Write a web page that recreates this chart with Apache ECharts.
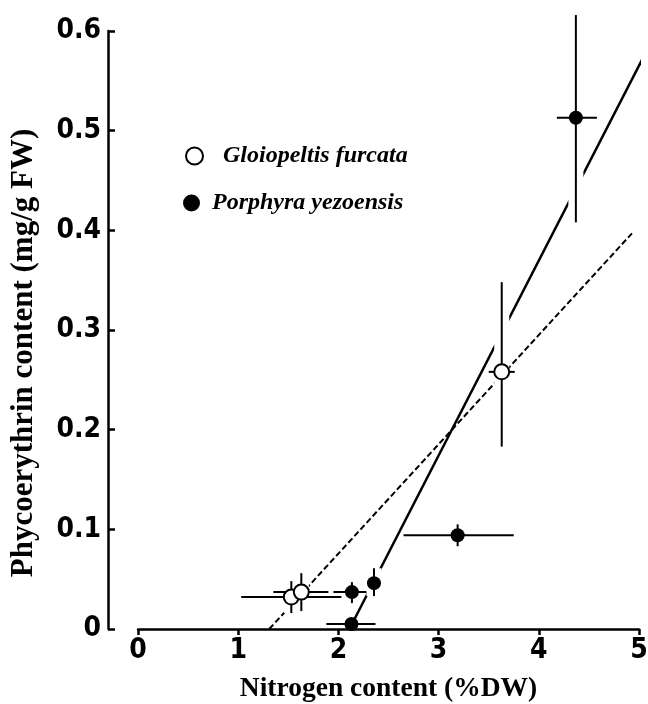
<!DOCTYPE html>
<html>
<head>
<meta charset="utf-8">
<script src="https://cdn.jsdelivr.net/npm/echarts@6/dist/echarts.min.js"></script>
<style>
html,body{margin:0;padding:0;background:#fff;}
#chart{width:648px;height:704px;}
</style>
</head>
<body>
<div id="chart"></div>
<script>
// ---- data ----
const xTicks = [0, 1, 2, 3, 4, 5];
const yTicks = [0, 0.1, 0.2, 0.3, 0.4, 0.5, 0.6];

// Gloiopeltis furcata (open circles)
const gloX   = [1.53, 1.63, 3.63];
const gloY   = [0.032, 0.037, 0.258];
const gloXLo = [1.03, 1.35, 3.50];
const gloXHi = [2.03, 1.90, 3.76];
const gloYLo = [0.016, 0.018, 0.183];
const gloYHi = [0.048, 0.056, 0.348];

// Porphyra yezoensis (filled circles)
const porX   = [2.13, 2.135, 2.355, 3.19, 4.37];
const porY   = [0.005, 0.037, 0.046, 0.094, 0.513];
const porXLo = [1.88, 1.95, 2.30, 2.65, 4.18];
const porXHi = [2.37, 2.28, 2.41, 3.75, 4.58];
const porYLo = [0.005, 0.026, 0.033, 0.083, 0.408];
const porYHi = [0.005, 0.047, 0.061, 0.105, 0.616];

// regression lines (end points)
const gloFitX = [1.31, 4.93];
const gloFitY = [0, 0.397];
const porFitX = [2.11, 5.06];
const porFitY = [0, 0.577];

// ---- build ----
function pts(xs, ys) { return xs.map((x, i) => [x, ys[i]]); }
function errRows(xs, ys, xl, xh, yl, yh) {
  return xs.map((x, i) => [x, ys[i], xl[i], xh[i], yl[i], yh[i]]);
}
const errData = errRows(gloX, gloY, gloXLo, gloXHi, gloYLo, gloYHi)
  .concat(errRows(porX, porY, porXLo, porXHi, porYLo, porYHi));

const serif = "'Liberation Serif', 'Times New Roman', serif";
const cond = "'Liberation Sans Narrow', 'DejaVu Sans Condensed', 'Liberation Sans', sans-serif";

function haloItem(params, api) {
  const lo = api.coord([api.value(0), api.value(4)]);
  const hi = api.coord([api.value(0), api.value(5)]);
  if (Math.abs(lo[1] - hi[1]) < 1) return null;
  return {
    type: 'line',
    shape: { x1: lo[0], y1: lo[1], x2: hi[0], y2: hi[1] },
    style: { stroke: '#fff', lineWidth: 15, lineCap: 'butt' }
  };
}
function barItem(params, api) {
  const l = api.coord([api.value(2), api.value(1)]);
  const r = api.coord([api.value(3), api.value(1)]);
  const lo = api.coord([api.value(0), api.value(4)]);
  const hi = api.coord([api.value(0), api.value(5)]);
  const st = { stroke: '#000', lineWidth: 2, lineCap: 'butt' };
  const ch = [{ type: 'line', shape: { x1: l[0], y1: l[1], x2: r[0], y2: r[1] }, style: st }];
  if (Math.abs(lo[1] - hi[1]) >= 1) {
    ch.push({ type: 'line', shape: { x1: lo[0], y1: lo[1], x2: hi[0], y2: hi[1] }, style: st });
  }
  return { type: 'group', children: ch };
}

const chart = echarts.init(document.getElementById('chart'), null, { renderer: 'canvas' });
chart.setOption({
  animation: false,
  backgroundColor: '#fff',
  grid: { left: 138, right: 9, top: 31, bottom: 75, containLabel: false, outerBoundsMode: 'none' },
  legend: [
    {
      data: [{ name: 'Gloiopeltis furcata', icon: 'circle',
               itemStyle: { color: '#fff', borderColor: '#000', borderWidth: 2 } }],
      left: 180, top: 139, itemWidth: 17, itemHeight: 17,
      selectedMode: false,
      textStyle: { fontFamily: serif, fontStyle: 'italic', fontWeight: 'bold', fontSize: 24,
                   color: '#000', padding: [0, 0, 0, 15] }
    },
    {
      data: [{ name: 'Porphyra yezoensis', icon: 'circle',
               itemStyle: { color: '#000', borderColor: '#000', borderWidth: 0 } }],
      left: 178, top: 186, itemWidth: 17, itemHeight: 17,
      selectedMode: false,
      textStyle: { fontFamily: serif, fontStyle: 'italic', fontWeight: 'bold', fontSize: 24,
                   color: '#000', padding: [0, 0, 0, 7] }
    }
  ],
  xAxis: {
    type: 'value',
    min: xTicks[0], max: xTicks[xTicks.length - 1], interval: 1,
    name: 'Nitrogen content (%DW)',
    nameLocation: 'middle', nameGap: 46,
    nameTextStyle: { fontFamily: serif, fontWeight: 'bold', fontSize: 27.5, color: '#000' },
    axisLine: { lineStyle: { color: '#000', width: 2.5 } },
    axisTick: { inside: false, length: 6, lineStyle: { color: '#000', width: 2.5 } },
    axisLabel: { fontFamily: cond, fontWeight: 'bold', fontSize: 28, color: '#000', margin: 8 },
    splitLine: { show: false }
  },
  yAxis: {
    type: 'value',
    min: yTicks[0], max: yTicks[yTicks.length - 1], interval: 0.1,
    offset: 30,
    name: 'Phycoerythrin content (mg/g FW)',
    nameLocation: 'middle', nameGap: 69,
    nameTextStyle: { fontFamily: serif, fontWeight: 'bold', fontSize: 31, color: '#000',
                     padding: [0, 46, 0, 0] },
    axisLine: { onZero: false, lineStyle: { color: '#000', width: 2.5 } },
    axisTick: { inside: true, length: 7, lineStyle: { color: '#000', width: 2.5 } },
    axisLabel: { fontFamily: cond, fontWeight: 'bold', fontSize: 28, color: '#000', margin: 7,
                 formatter: v => (v === 0 ? '0' : v.toFixed(1)) },
    splitLine: { show: false }
  },
  series: [
    {
      name: 'Gloiopeltis fit', type: 'line', data: pts(gloFitX, gloFitY),
      showSymbol: false, clip: false, z: 2,
      lineStyle: { color: '#000', width: 2, type: [6, 3] }
    },
    {
      name: 'Porphyra fit', type: 'line', data: pts(porFitX, porFitY),
      showSymbol: false, clip: false, z: 2,
      lineStyle: { color: '#000', width: 2.5, type: 'solid' }
    },
    {
      name: 'halo', type: 'custom', data: errData, renderItem: haloItem,
      encode: { x: 0, y: 1 }, clip: false, z: 3, silent: true
    },
    {
      name: 'error bars', type: 'custom', data: errData, renderItem: barItem,
      encode: { x: 0, y: 1 }, clip: false, z: 4, silent: true
    },
    {
      name: 'Gloiopeltis furcata', type: 'scatter', data: pts(gloX, gloY),
      symbol: 'circle', symbolSize: 15, z: 5,
      itemStyle: { color: '#fff', borderColor: '#000', borderWidth: 2, opacity: 1 }
    },
    {
      name: 'Porphyra yezoensis', type: 'scatter', data: pts(porX, porY),
      symbol: 'circle', symbolSize: 14, z: 5,
      itemStyle: { color: '#000', borderColor: '#000', borderWidth: 0, opacity: 1 }
    }
  ]
});
</script>
</body>
</html>
